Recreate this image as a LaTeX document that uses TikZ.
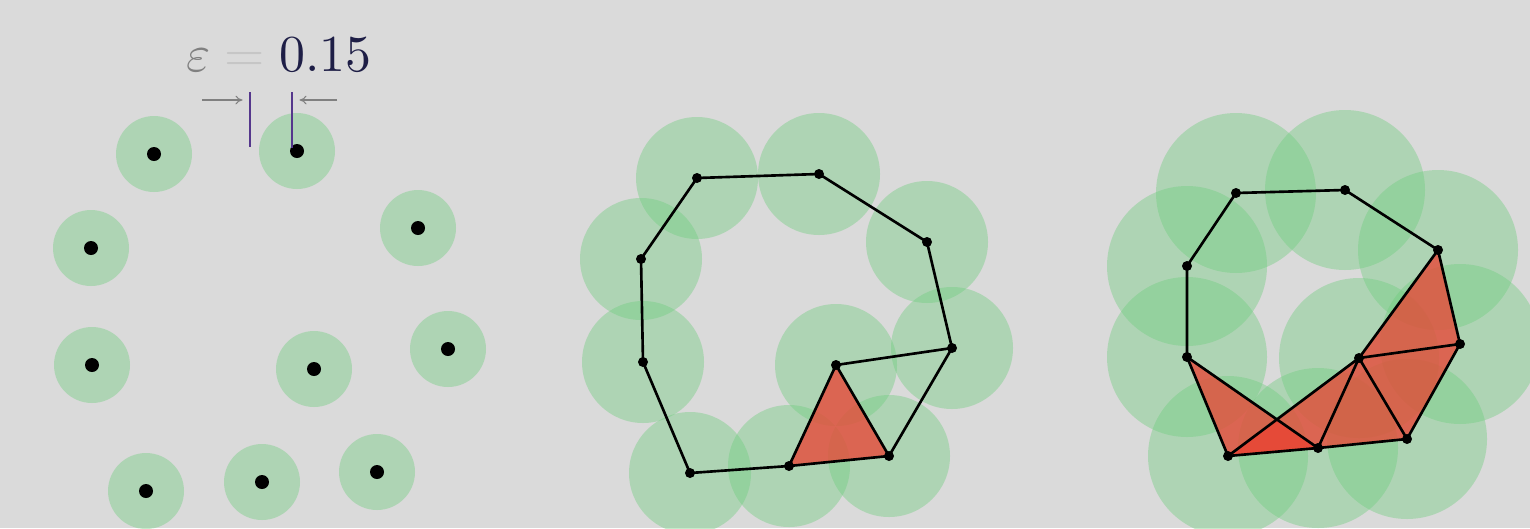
\documentclass[tikz,border=0pt]{standalone}
\usepackage{amsmath}
\usepackage{xcolor}
\usetikzlibrary{arrows.meta}
\definecolor{bggray}{RGB}{218,218,218}
\definecolor{ballgreen}{RGB}{110,205,125}
\definecolor{simplexred}{RGB}{235,65,50}
\definecolor{barpurple}{RGB}{85,55,140}
\definecolor{valueblue}{RGB}{30,30,70}

\begin{document}
\begin{tikzpicture}[
x=0.02cm, y=-0.02cm,
ball/.style={fill=ballgreen, fill opacity=0.4},
simplex/.style={fill=simplexred, fill opacity=0.75},
edge/.style={draw=black, line width=1.5pt, line join=round},
vertex/.style={fill=black},
bar/.style={draw=barpurple, line width=1.1pt},
gap/.style={draw=gray, line width=0.6pt, -{To[length=4pt,width=5pt]}}
]

\useasboundingbox (0,0) rectangle (1530,528);
\clip (0,0) rectangle (1530,528);
\fill[bggray] (0,0) rectangle (1530,528);

\foreach \i/\x/\y in {1/154/154,2/297/151,3/91/248,4/418/228,5/92/365,
6/314/369,7/448/349,8/146/491,9/262/482,10/377/472}
\coordinate (a\i) at (\x,\y);
\foreach \i/\x/\y in {1/697/178,2/819/174,3/927/242,4/952/348,5/889/456,
6/789/466,7/690/473,8/643/362,9/641/259,10/836/365}
\coordinate (b\i) at (\x,\y);
\foreach \i/\x/\y in {1/1236/193,2/1345/190,3/1438/250,4/1460/344,5/1407/439,
6/1318/448,7/1228/456,8/1187/357,9/1187/266,10/1359/358}
\coordinate (c\i) at (\x,\y);

\foreach \i in {1,...,10} {
\fill[ball] (a\i) circle (38);
\fill[ball] (b\i) circle (61);
\fill[ball] (c\i) circle (80);
}

\fill[simplex] (b10) -- (b5) -- (b6) -- cycle;
\fill[simplex] (c3) -- (c4) -- (c10) -- cycle;
\fill[simplex] (c4) -- (c5) -- (c10) -- cycle;
\fill[simplex] (c5) -- (c6) -- (c10) -- cycle;
\fill[simplex] (c6) -- (c7) -- (c10) -- cycle;
\fill[simplex] (c8) -- (c7) -- (c6) -- cycle;

\draw[edge] (b1) -- (b2) -- (b3) -- (b4) -- (b5) -- (b6) -- (b7) -- (b8) -- (b9) -- cycle;
\draw[edge] (b4) -- (b10) -- (b5) (b10) -- (b6);
\draw[edge] (c1) -- (c2) -- (c3) -- (c4) -- (c5) -- (c6) -- (c7) -- (c8) -- (c9) -- cycle;
\draw[edge] (c3) -- (c10) -- (c4) (c10) -- (c5) (c10) -- (c6) (c10) -- (c7) (c8) -- (c6);

\foreach \i in {1,...,10} {
\fill[vertex] (a\i) circle (7);
\fill[vertex] (b\i) circle (5);
\fill[vertex] (c\i) circle (5);
}

\node[anchor=base, inner sep=0pt, scale=2.95] (epslabel) at (279,71)
{$\textcolor{gray}{\varepsilon} \mathrel{\textcolor{gray!45}{=}} \textcolor{valueblue}{0.15}$};

\coordinate (barl1) at (250,92);
\coordinate (barl2) at (250,147);
\coordinate (barr1) at (292,92);
\coordinate (barr2) at (292,148);
\coordinate (gapl) at (202,100);
\coordinate (gapr) at (337,100);
\draw[bar] (barl1) -- (barl2);
\draw[bar] (barr1) -- (barr2);
\draw[gap] (gapl) -- ([xshift=-0.15cm]barl1 |- gapl);
\draw[gap] (gapr) -- ([xshift=0.15cm]barr1 |- gapr);

\end{tikzpicture}
\end{document}
